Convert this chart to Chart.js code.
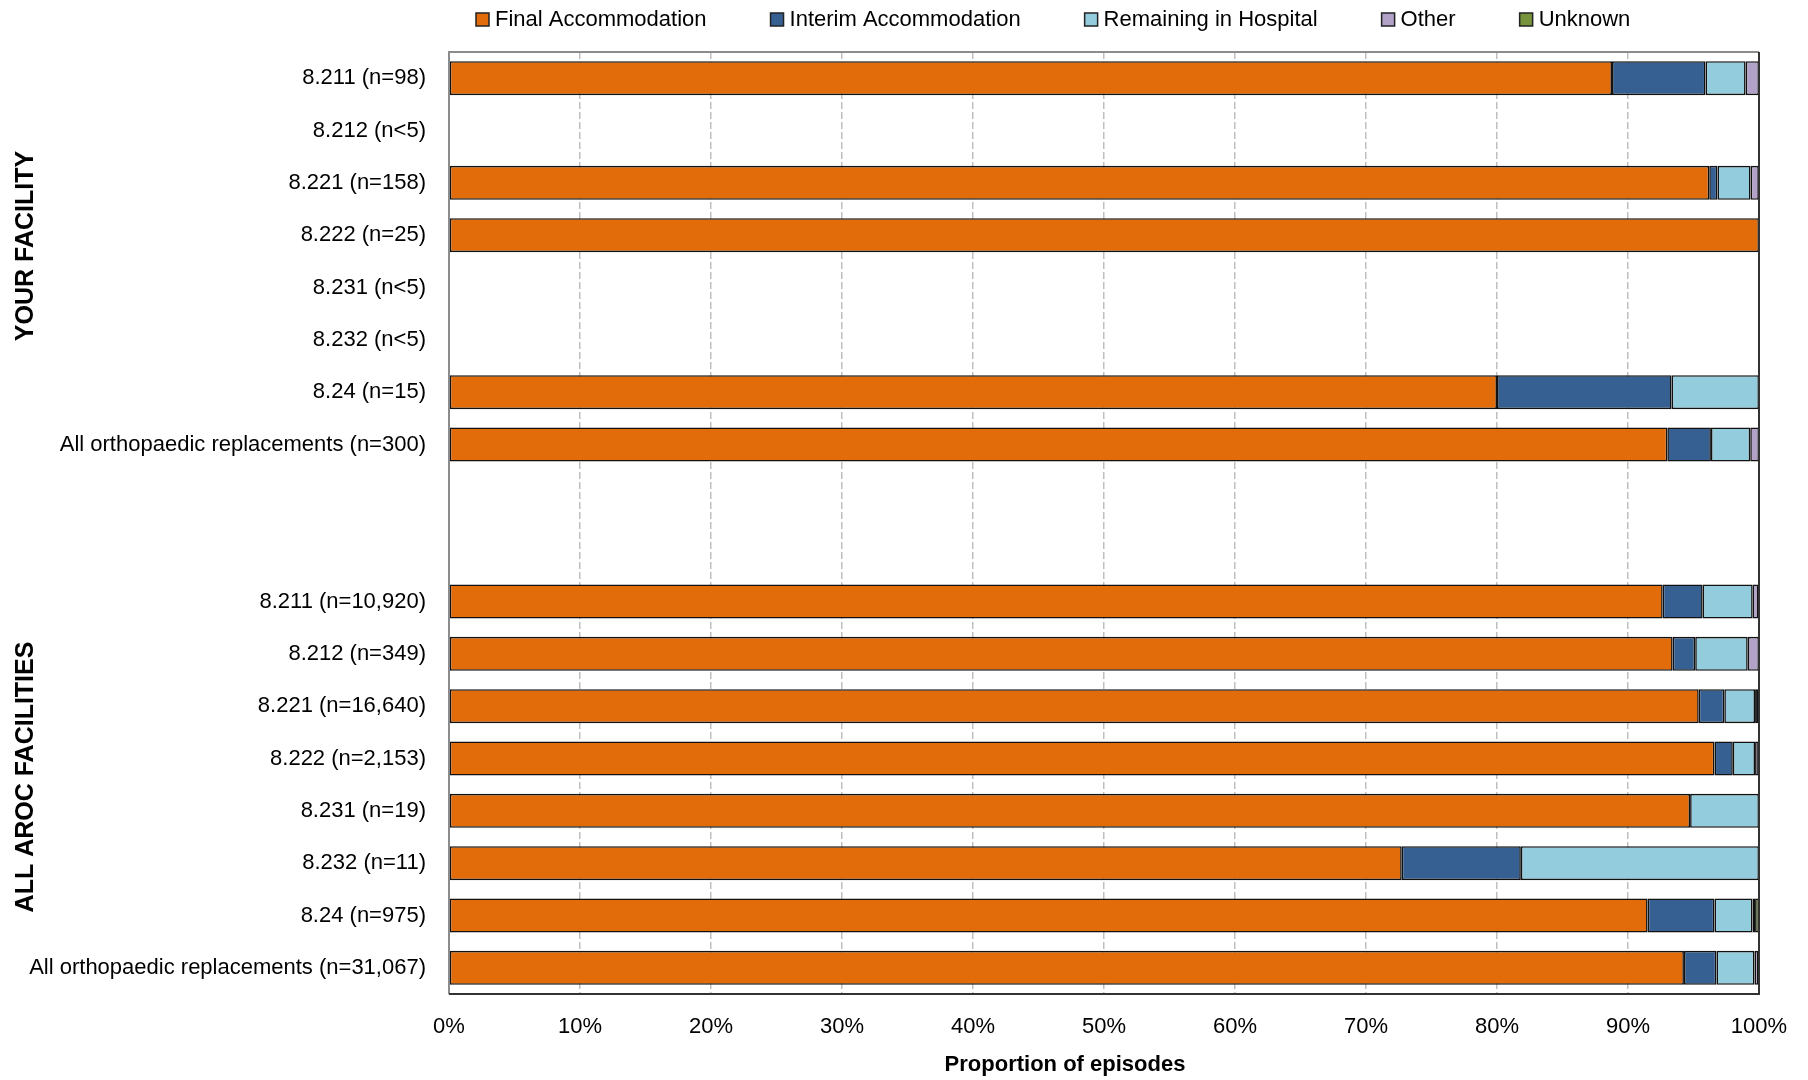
<!DOCTYPE html>
<html>
<head>
<meta charset="utf-8">
<script src="https://cdn.jsdelivr.net/npm/chart.js@4/dist/chart.umd.min.js"></script>
<style>
  html, body { margin: 0; padding: 0; background: #fff; }
  #wrap { width: 1808px; height: 1080px; }
</style>
</head>
<body>
<div id="wrap"><canvas id="canvas" width="1808" height="1080"></canvas></div>
<script>
const FONT = "'Liberation Sans Narrow', 'Arial Narrow', 'Liberation Sans', sans-serif";

const categories = [
  "8.211 (n=98)", "8.212 (n<5)", "8.221 (n=158)", "8.222 (n=25)",
  "8.231 (n<5)", "8.232 (n<5)", "8.24 (n=15)", "All orthopaedic replacements (n=300)",
  "", "",
  "8.211 (n=10,920)", "8.212 (n=349)", "8.221 (n=16,640)", "8.222 (n=2,153)",
  "8.231 (n=19)", "8.232 (n=11)", "8.24 (n=975)", "All orthopaedic replacements (n=31,067)"
];

const seriesNames = ["Final Accommodation", "Interim Accommodation", "Remaining in Hospital", "Other", "Unknown"];
const seriesColors = ["#e36c0a", "#366092", "#93cddd", "#b3a2c7", "#77933c"];

// percent of episodes per row (null = no segment)
const finalAcc  = [88.78, null, 96.20, 100, null, null, 80.00, 93.00, null, null, 92.65, 93.41, 95.40, 96.60, 94.74, 72.73, 91.50, 94.27];
const interim   = [7.14, null, 0.63, null, null, null, 13.33, 3.33, null, null, 3.05, 1.72, 1.95, 1.40, null, 9.09, 5.10, 2.48];
const remaining = [3.06, null, 2.53, null, null, null, 6.67, 3.00, null, null, 3.82, 4.01, 2.35, 1.70, 5.26, 18.18, 2.90, 2.90];
const other     = [1.02, null, 0.63, null, null, null, null, 0.67, null, null, 0.45, 0.86, 0.25, 0.28, null, null, 0.20, 0.30];
const unknown   = [null, null, null, null, null, null, null, null, null, null, 0.03, null, 0.05, 0.02, null, null, 0.30, 0.05];

const xTicks = [0, 10, 20, 30, 40, 50, 60, 70, 80, 90, 100];
const groupTitles = ["YOUR FACILITY", "ALL AROC FACILITIES"];
const xTitle = "Proportion of episodes";

const seriesData = [finalAcc, interim, remaining, other, unknown];

const datasets = seriesNames.map((name, i) => ({
  label: name,
  data: seriesData[i],
  backgroundColor: seriesColors[i],
  borderColor: "#111",
  borderWidth: 1.6,
  borderSkipped: false,
  barPercentage: 0.65,
  categoryPercentage: 1,
}));

// legend, group titles, axis title and plot frame
const extras = {
  id: "extras",
  afterDraw(chart) {
    const { ctx, chartArea: a } = chart;
    ctx.save();

    // frame
    ctx.lineWidth = 2;
    ctx.strokeStyle = "#8c8c8c";
    ctx.beginPath();
    ctx.moveTo(a.left, a.bottom);
    ctx.lineTo(a.left, a.top);
    ctx.lineTo(a.right, a.top);
    ctx.stroke();
    ctx.strokeStyle = "#333";
    ctx.beginPath();
    ctx.moveTo(a.right, a.top);
    ctx.lineTo(a.right, a.bottom);
    ctx.lineTo(a.left, a.bottom);
    ctx.stroke();

    // legend
    ctx.font = "22px " + FONT;
    ctx.textBaseline = "middle";
    ctx.textAlign = "left";
    let x = 476;
    chart.data.datasets.forEach((ds) => {
      ctx.fillStyle = ds.backgroundColor;
      ctx.fillRect(x, 13, 13, 13);
      ctx.lineWidth = 1.5;
      ctx.strokeStyle = "#222";
      ctx.strokeRect(x, 13, 13, 13);
      ctx.fillStyle = "#000";
      ctx.fillText(ds.label, x + 19, 20);
      x += 19 + ctx.measureText(ds.label).width + 64;
    });

    // group titles
    ctx.font = "bold 25px " + FONT;
    ctx.textAlign = "center";
    [[groupTitles[0], 246], [groupTitles[1], 777]].forEach(([t, y]) => {
      ctx.save();
      ctx.translate(26, y);
      ctx.rotate(-Math.PI / 2);
      ctx.fillText(t, 0, 0);
      ctx.restore();
    });

    // x axis title
    ctx.font = "bold 22px " + FONT;
    ctx.fillText(xTitle, 1065, 1065);
    ctx.restore();
  },
};

new Chart(document.querySelector("#canvas").getContext("2d"), {
  type: "bar",
  data: { labels: categories, datasets },
  plugins: [extras],
  options: {
    indexAxis: "y",
    responsive: false,
    animation: false,
    layout: { padding: { top: 52, right: 49, left: 0, bottom: 0 } },
    plugins: {
      legend: { display: false },
      tooltip: { enabled: false },
    },
    scales: {
      x: {
        stacked: true,
        min: 0,
        max: 100,
        afterBuildTicks: (s) => { s.ticks = xTicks.map((v) => ({ value: v })); },
        afterFit: (s) => { s.height = 86; },
        ticks: {
          padding: 20,
          color: "#000",
          font: { family: FONT, size: 22 },
          callback: (v) => v + "%",
        },
        grid: { color: "#bfbfbf", lineWidth: 1.5, drawTicks: false },
        border: { display: false, dash: [7, 3] },
      },
      y: {
        stacked: true,
        afterFit: (s) => { s.width = 449; },
        ticks: {
          padding: 23,
          color: "#000",
          autoSkip: false,
          font: { family: FONT, size: 22 },
        },
        grid: { display: false, drawTicks: false },
        border: { display: false },
      },
    },
  },
});
</script>
</body>
</html>
